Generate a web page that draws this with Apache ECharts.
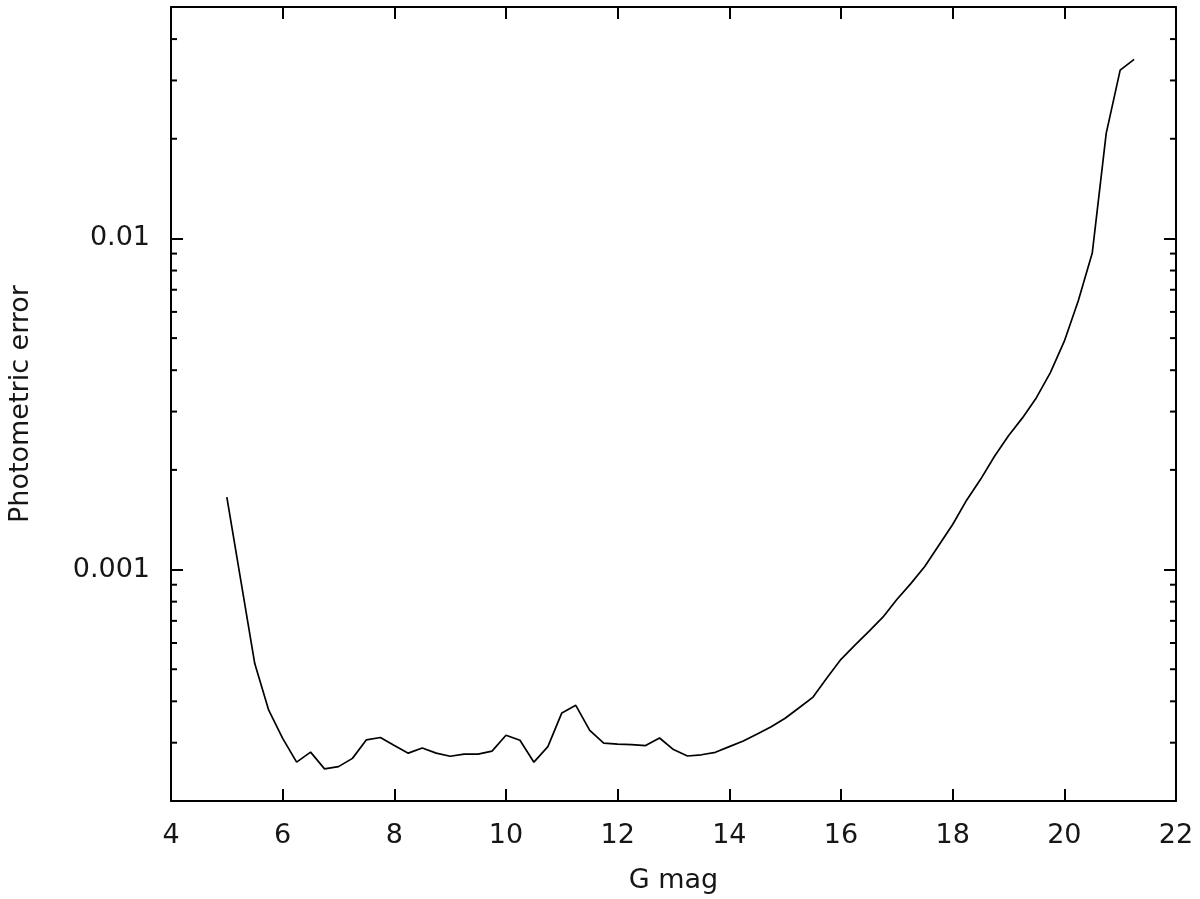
<!DOCTYPE html>
<html>
<head>
<meta charset="utf-8">
<script src="https://cdn.jsdelivr.net/npm/echarts@6/dist/echarts.min.js"></script>
<style>
html, body { margin: 0; padding: 0; background: #fff; }
#chart { width: 1200px; height: 899px; }
</style>
</head>
<body>
<div id="chart"></div>
<script>
// G magnitude sampled every 0.25 mag
var gMag = [5.00, 5.25, 5.50, 5.75, 6.00, 6.25, 6.50, 6.75, 7.00, 7.25, 7.50, 7.75,
    8.00, 8.25, 8.50, 8.75, 9.00, 9.25, 9.50, 9.75,
    10.00, 10.25, 10.50, 10.75, 11.00, 11.25, 11.50, 11.75,
    12.00, 12.25, 12.50, 12.75, 13.00, 13.25, 13.50, 13.75,
    14.00, 14.25, 14.50, 14.75, 15.00, 15.25, 15.50, 15.75,
    16.00, 16.25, 16.50, 16.75, 17.00, 17.25, 17.50, 17.75,
    18.00, 18.25, 18.50, 18.75, 19.00, 19.25, 19.50, 19.75,
    20.00, 20.25, 20.50, 20.75, 21.00, 21.25];
var photErr = [0.001655, 0.000928, 0.000520, 0.000376, 0.000309, 0.000262, 0.000281, 0.000250, 0.000254, 0.000269, 0.000306, 0.000311,
    0.000294, 0.000279, 0.000289, 0.000279, 0.000273, 0.000277, 0.000277, 0.000283,
    0.000316, 0.000305, 0.000262, 0.000292, 0.000369, 0.000389, 0.000327, 0.000299,
    0.000297, 0.000296, 0.000294, 0.000310, 0.000286, 0.0002735, 0.0002758, 0.0002806,
    0.0002919, 0.0003035, 0.0003187, 0.0003353, 0.0003556, 0.0003824, 0.0004119, 0.000471,
    0.0005358, 0.000591, 0.000651, 0.000718, 0.000812, 0.000907, 0.001022, 0.001182,
    0.001368, 0.001620, 0.001873, 0.002199, 0.002534, 0.002871, 0.003304, 0.003931,
    0.004894, 0.006483, 0.009030, 0.02076, 0.03225, 0.03474];

// axis ranges and ticks
var xMin = 4, xMax = 22, xStep = 2;
var yMin = 0.0002, yMax = 0.05;
var yMajorTicks = [0.001, 0.01];
var yTickLabels = ['0.001', '0.01'];
var yMinorTicks = [0.0003, 0.0004, 0.0005, 0.0006, 0.0007, 0.0008, 0.0009,
    0.002, 0.003, 0.004, 0.005, 0.006, 0.007, 0.008, 0.009,
    0.02, 0.03, 0.04];

var font = 'DejaVu Sans';
var ink = '#161616';

var lineData = gMag.map(function (g, i) { return [g, photErr[i]]; });

function yLabel(v) {
    for (var i = 0; i < yMajorTicks.length; i++) {
        if (Math.abs(Math.log10(v) - Math.log10(yMajorTicks[i])) < 1e-6) return yTickLabels[i];
    }
    return '';
}

var mychart = echarts.init(document.getElementById('chart'));
var option = {
    backgroundColor: '#fff',
    animation: false,
    grid: { left: 171, right: 24, top: 7, bottom: 98, outerBoundsMode: 'none' },
    xAxis: [
        {
            type: 'value', position: 'bottom',
            min: xMin, max: xMax, interval: xStep,
            name: 'G mag', nameLocation: 'middle', nameGap: 66,
            nameTextStyle: { fontFamily: font, fontSize: 27, color: ink },
            axisLine: { show: true, lineStyle: { color: '#000', width: 2 } },
            axisTick: { show: true, inside: true, length: 12, lineStyle: { color: '#000', width: 2 } },
            axisLabel: { margin: 21, fontFamily: font, fontSize: 27, color: ink },
            splitLine: { show: false }
        },
        {
            type: 'value', position: 'top',
            min: xMin, max: xMax, interval: xStep,
            axisLine: { show: true, lineStyle: { color: '#000', width: 2 } },
            axisTick: { show: true, inside: true, length: 12, lineStyle: { color: '#000', width: 2 } },
            axisLabel: { show: false },
            splitLine: { show: false }
        }
    ],
    yAxis: [
        {
            type: 'log', logBase: 10, position: 'left',
            min: yMin, max: yMax,
            name: 'Photometric error', nameLocation: 'middle', nameGap: 137,
            nameTextStyle: { fontFamily: font, fontSize: 27, color: ink },
            axisLine: { show: true, lineStyle: { color: '#000', width: 2 } },
            axisTick: { show: true, inside: true, length: 12, lineStyle: { color: '#000', width: 2 } },
            axisLabel: { margin: 21, fontFamily: font, fontSize: 27, color: ink, formatter: yLabel },
            splitLine: { show: false },
            minorTick: { show: false }
        },
        {
            type: 'log', logBase: 10, position: 'right',
            min: yMin, max: yMax,
            axisLine: { show: true, lineStyle: { color: '#000', width: 2 } },
            axisTick: { show: true, inside: true, length: 12, lineStyle: { color: '#000', width: 2 } },
            axisLabel: { show: false },
            splitLine: { show: false }
        }
    ],
    series: [
        {
            // minor log ticks on left and right frame
            type: 'custom',
            xAxisIndex: 0, yAxisIndex: 0,
            silent: true,
            encode: { x: 0, y: 1 },
            data: yMinorTicks.map(function (v) { return [xMin, v]; }),
            renderItem: function (params, api) {
                var v = api.value(1);
                var pl = api.coord([xMin, v]);
                var pr = api.coord([xMax, v]);
                var st = { stroke: '#000', lineWidth: 2 };
                return {
                    type: 'group',
                    children: [
                        { type: 'line', shape: { x1: pl[0], y1: pl[1], x2: pl[0] + 6, y2: pl[1] }, style: st },
                        { type: 'line', shape: { x1: pr[0] - 6, y1: pr[1], x2: pr[0], y2: pr[1] }, style: st }
                    ]
                };
            }
        },
        {
            name: 'Photometric error',
            type: 'line',
            xAxisIndex: 0, yAxisIndex: 0,
            showSymbol: false,
            smooth: false,
            lineStyle: { color: '#000', width: 1.7 },
            data: lineData
        }
    ]
};
mychart.setOption(option);
</script>
</body>
</html>
